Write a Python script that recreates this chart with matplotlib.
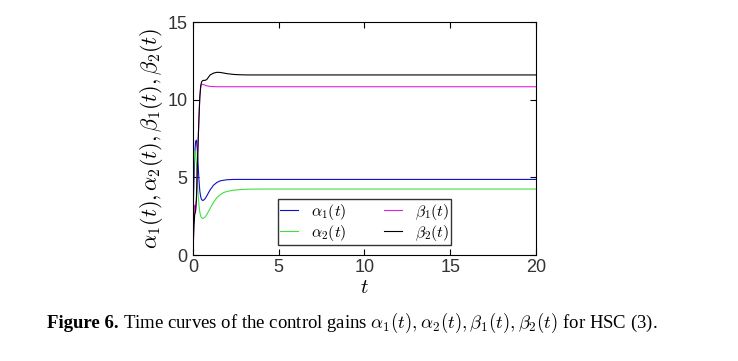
#!/usr/bin/python3
import numpy as np
import matplotlib
matplotlib.use("Agg")
from matplotlib import pyplot as plt

# values
t = [0, 0.05, 0.1, 0.15, 0.2, 0.25, 0.3, 0.35, 0.4, 0.45, 0.5, 0.55, 0.6,
     0.7, 0.8, 0.9, 1.0, 1.2, 1.4, 1.6, 1.8, 2.0, 2.4, 2.8, 3.2, 4, 5, 8, 20]
alpha1 = [2.5, 4.5, 6.5, 7.3, 7.4, 6.8, 5.8, 4.8, 4.1, 3.75, 3.58, 3.52, 3.52,
          3.62, 3.8, 4.0, 4.2, 4.5, 4.68, 4.78, 4.82, 4.85, 4.87, 4.87, 4.87,
          4.87, 4.87, 4.87, 4.87]
alpha2 = [4.0, 5.8, 6.7, 6.6, 5.9, 4.9, 3.9, 3.2, 2.75, 2.5, 2.4, 2.36, 2.36,
          2.45, 2.6, 2.8, 3.0, 3.4, 3.7, 3.9, 4.03, 4.1, 4.18, 4.22, 4.24,
          4.25, 4.25, 4.25, 4.25]
beta1 = [0, 1.8, 3.2, 2.9, 3.6, 5.5, 7.3, 8.9, 10.2, 10.8, 10.98, 11.0, 10.98,
         10.94, 10.9, 10.88, 10.86, 10.85, 10.84, 10.84, 10.84, 10.84, 10.84,
         10.84, 10.84, 10.84, 10.84, 10.84, 10.84]
beta2 = [0, 1.8, 2.6, 2.8, 3.6, 5.5, 7.3, 8.9, 10.2, 10.9, 11.15, 11.22, 11.25,
         11.25, 11.3, 11.45, 11.6, 11.72, 11.77, 11.76, 11.72, 11.68, 11.63,
         11.61, 11.6, 11.6, 11.6, 11.6, 11.6]

labels = [r'$\alpha_1(t)$', r'$\alpha_2(t)$', r'$\beta_1(t)$', r'$\beta_2(t)$']
colors = ['#1010c8', '#40e040', '#e020e0', 'black']


def main():
    plt.rcParams['mathtext.fontset'] = 'cm'
    plt.rcParams['font.family'] = ['Liberation Sans', 'DejaVu Sans']

    fig = plt.figure(figsize=(7.38, 3.61), dpi=100)
    ax = fig.add_axes([0.2615, 0.2936, 0.4648, 0.645])

    for y, lab, c in zip([alpha1, alpha2, beta1, beta2], labels, colors):
        ax.plot(t, y, color=c, lw=0.8, label=lab)

    ax.set_xlim(0, 20)
    ax.set_ylim(0, 15)
    ax.set_xticks([0, 5, 10, 15, 20])
    ax.set_yticks([0, 5, 10, 15])
    ax.tick_params(direction='in', top=True, right=True, length=4,
                   labelsize=13, labelcolor='#333333', width=0.8)
    ax.tick_params(axis='x', pad=3)
    ax.tick_params(axis='y', pad=4)
    for s in ax.spines.values():
        s.set_linewidth(0.8)

    ax.set_xlabel(r'$t$', fontsize=15, labelpad=1)
    ax.set_ylabel(r'$\alpha_1(t),\alpha_2(t),\beta_1(t),\beta_2(t)$',
                  fontsize=16, labelpad=2)

    # legend order: alpha1, alpha2 in first column, beta1, beta2 in second
    leg = ax.legend(ncol=2, loc='lower center', bbox_to_anchor=(0.5, 0.043),
                    fontsize=11.5, frameon=True, fancybox=False,
                    handlelength=1.1, columnspacing=2.4, borderpad=0.15,
                    labelspacing=0.05, handletextpad=0.8, borderaxespad=0)
    leg.get_frame().set_edgecolor('black')
    leg.get_frame().set_linewidth(1.0)

    fig.text(0.064, 0.105, 'Figure 6.', fontsize=13.5, fontweight='bold',
             family='Liberation Serif', va='center')
    fig.text(0.166, 0.105,
             r'Time curves of the control gains $\alpha_1(t), \alpha_2(t), '
             r'\beta_1(t), \beta_2(t)$ for HSC (3).',
             fontsize=13.5, family='Liberation Serif', va='center')

    fig.savefig('out.png', dpi=100)


if __name__ == '__main__':
    main()
